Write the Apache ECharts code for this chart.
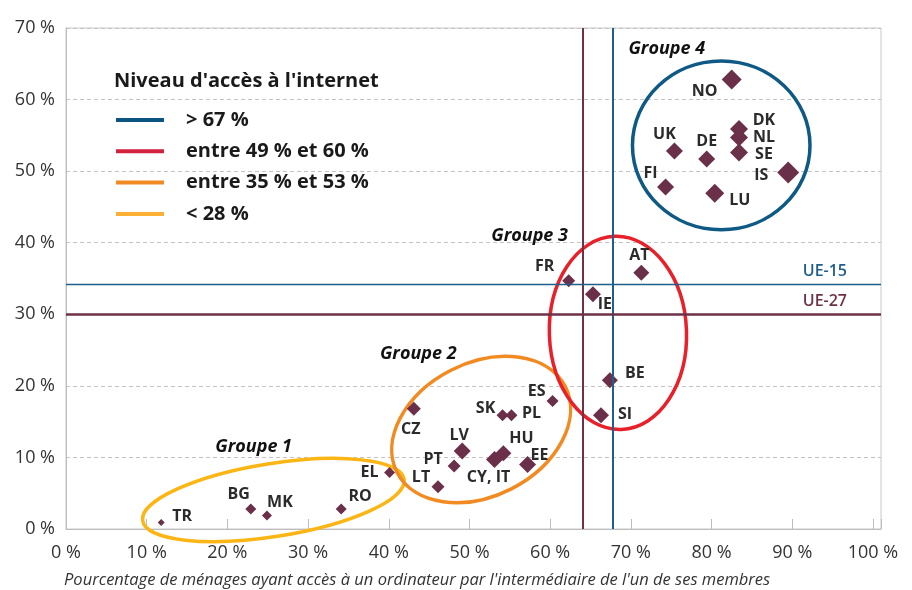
<!DOCTYPE html>
<html>
<head>
<meta charset="utf-8">
<script src="https://cdn.jsdelivr.net/npm/echarts@6/dist/echarts.min.js"></script>
<style>
  html, body { margin: 0; padding: 0; background: #fff; }
  #chart { width: 912px; height: 590px; }
</style>
</head>
<body>
<div id="chart"></div>
<script>
// pays et valeurs (%)
const countries = ['TR', 'BG', 'MK', 'RO', 'EL', 'CZ', 'LT', 'PT', 'LV', 'CY, IT', 'HU', 'EE', 'SK', 'PL', 'ES',
  'FR', 'IE', 'AT', 'BE', 'SI', 'NO', 'DK', 'NL', 'SE', 'UK', 'DE', 'FI', 'LU', 'IS'];
const computerAccess = [11.8, 22.9, 24.9, 34.1, 40.1, 43.1, 46.1, 48.1, 49.1, 53.1, 54.2, 57.2, 54.1, 55.2, 60.3,
  62.3, 65.3, 71.3, 67.4, 66.3, 82.5, 83.4, 83.4, 83.4, 75.4, 79.4, 74.3, 80.4, 89.5];
const yValues = [0.9, 2.8, 1.9, 2.8, 7.9, 16.8, 5.9, 8.8, 10.9, 9.7, 10.6, 9.0, 15.9, 15.9, 17.9,
  34.7, 32.8, 35.8, 20.8, 15.9, 62.8, 55.9, 54.7, 52.6, 52.8, 51.7, 47.8, 46.9, 49.8];
const bubbleValues = [7, 11, 10, 11, 11, 14, 13, 13, 17, 17, 16, 17, 12, 12, 12,
  13, 16, 16, 16, 16, 20, 18, 18, 18, 17, 17, 17, 19, 22];

// moyennes UE
const ue15 = [67.8, 34.2];
const ue27 = [64.0, 30.0];

const xTicks = [0, 10, 20, 30, 40, 50, 60, 70, 80, 90, 100];

// groupes (ellipses)
const groupNames = ['Groupe 1', 'Groupe 2', 'Groupe 3', 'Groupe 4'];
const legendItems = ['> 67 %', 'entre 49 % et 60 %', 'entre 35 % et 53 %', '< 28 %'];

const groupShapes = [
  // cx, cy, rx (unités x), ry (unités y), rotation°, label x, label y
  [25.7, 4.05, 16.4, 5.1, 9, 18.5, 11.5],
  [51.45, 13.9, 11.7, 9.3, 27, 38.9, 24.5],
  [68.4, 27.4, 8.5, 13.5, 2, 52.7, 41.0],
  [81.2, 53.6, 11.0, 11.8, 0, 69.7, 67.1],
];
const groupColors = ['#fbb616', '#f28a22', '#e8202a', '#0e5a85'];
const legendColors = ['#0b5580', '#d4213d', '#f08a24', '#fbb034'];

// décalage des étiquettes (px)
const labelOffset = {
  'TR': [21, -6], 'BG': [-12, -15], 'MK': [13, -13], 'RO': [19, -13], 'EL': [-20, 0],
  'CZ': [-3, 21], 'LT': [-17, -9], 'PT': [-21, -7], 'LV': [-3, -16], 'CY, IT': [-6, 18],
  'HU': [18, -15], 'EE': [12, -9], 'SK': [-17, -7], 'PL': [20, -2], 'ES': [-16, -9],
  'FR': [-24, -14], 'IE': [12, 10], 'AT': [-2, -17], 'BE': [25, -7], 'SI': [24, -1],
  'NO': [-27, 12], 'DK': [25, -8], 'NL': [25, 0], 'SE': [25, 2], 'UK': [-10, -17],
  'DE': [0, -18], 'FI': [-15, -13], 'LU': [25, 7], 'IS': [-27, 3],
};

const FONT = '"Open Sans", "Noto Sans", sans-serif';
const purple = '#6e3247';
const blue = '#1f5f8b';

const chart = echarts.init(document.getElementById('chart'));

const points = countries.map((c, i) => ({
  name: c,
  value: [computerAccess[i], yValues[i]],
  symbolSize: bubbleValues[i],
}));

const legendGraphics = [{
  type: 'text', x: 114, y: 81,
  style: {
    text: "Niveau d'accès à l'internet", font: `bold 20px ${FONT}`, fill: '#1a1a1a', verticalAlign: 'middle',
  },
}];
legendItems.forEach((t, i) => {
  const y = 120 + i * 31.3;
  legendGraphics.push({
    type: 'rect', shape: { x: 116, y: y - 2, width: 48, height: 4 },
    style: { fill: legendColors[i] },
  });
  legendGraphics.push({
    type: 'text', x: 186, y: y,
    style: { text: t, font: `bold 20px ${FONT}`, fill: '#1a1a1a', verticalAlign: 'middle' },
  });
});
legendGraphics.push({
  type: 'text', x: 64, y: 580,
  style: {
    text: "Pourcentage de ménages ayant accès à un ordinateur par l'intermédiaire de l'un de ses membres",
    font: `italic 16.5px ${FONT}`, fill: '#333', verticalAlign: 'middle',
  },
});

chart.setOption({
  animation: false,
  grid: {
    left: 66, right: 31, top: 28, bottom: 61,
    show: true, borderColor: '#c8c8c8', borderWidth: 1,
  },
  xAxis: {
    type: 'value', min: 0, max: 101, interval: 10,
    axisLine: { lineStyle: { color: '#bdbdbd' } },
    axisTick: { show: true, inside: true, length: 10, lineStyle: { color: '#bdbdbd' } },
    splitLine: { show: false },
    axisLabel: {
      margin: 15, fontSize: 18, color: '#333', fontFamily: FONT,
      formatter: (v) => (xTicks.includes(v) ? `${v} %` : ''),
    },
  },
  yAxis: {
    type: 'value', min: 0, max: 70, interval: 10,
    axisLine: { show: true, lineStyle: { color: '#bdbdbd' } },
    axisTick: { show: false },
    splitLine: { lineStyle: { color: '#c4c4c4', type: [4, 3] } },
    axisLabel: {
      margin: 11, fontSize: 18, color: '#333', fontFamily: FONT,
      formatter: '{value} %',
    },
  },
  graphic: legendGraphics,
  series: [
    {
      type: 'custom',
      clip: false,
      silent: true,
      z: 3,
      data: groupShapes,
      renderItem(params, api) {
        const i = params.dataIndex;
        const c = api.coord([api.value(0), api.value(1)]);
        const rx = api.size([api.value(2), 0])[0];
        const ry = api.size([0, api.value(3)])[1];
        const lp = api.coord([api.value(5), api.value(6)]);
        return {
          type: 'group',
          children: [
            {
              type: 'ellipse',
              x: c[0], y: c[1],
              rotation: api.value(4) * Math.PI / 180,
              shape: { cx: 0, cy: 0, rx, ry },
              style: { fill: 'none', stroke: groupColors[i], lineWidth: 3.5 },
            },
            {
              type: 'text',
              x: lp[0], y: lp[1],
              style: {
                text: groupNames[i], font: `italic bold 18px ${FONT}`, fill: '#111',
                verticalAlign: 'middle',
              },
            },
          ],
        };
      },
    },
    {
      type: 'scatter',
      symbol: 'diamond',
      z: 4,
      itemStyle: { color: '#6b3049', opacity: 1 },
      label: {
        show: true, position: 'inside', formatter: '{b}',
        fontFamily: FONT, fontWeight: 'bold', fontSize: 16, color: '#2b2b2b',
        align: 'center', verticalAlign: 'middle',
      },
      labelLayout(params) {
        const off = labelOffset[countries[params.dataIndex]];
        return { dx: off[0], dy: off[1], hideOverlap: false };
      },
      data: points,
      markLine: {
        symbol: 'none', silent: true, animation: false,
        data: [
          { xAxis: ue27[0], lineStyle: { color: purple, width: 2, type: 'solid' }, label: { show: false } },
          { xAxis: ue15[0], lineStyle: { color: blue, width: 2, type: 'solid' }, label: { show: false } },
          {
            yAxis: ue15[1], lineStyle: { color: blue, width: 1.3, type: 'solid' },
            label: {
              show: true, formatter: 'UE-15', position: 'insideEndTop', color: blue,
              fontFamily: FONT, fontWeight: 600, fontSize: 16, distance: [34, 5],
            },
          },
          {
            yAxis: ue27[1], lineStyle: { color: purple, width: 2.5, type: 'solid' },
            label: {
              show: true, formatter: 'UE-27', position: 'insideEndTop', color: purple,
              fontFamily: FONT, fontWeight: 600, fontSize: 16, distance: [34, 5],
            },
          },
        ],
      },
    },
  ],
});
</script>
</body>
</html>
